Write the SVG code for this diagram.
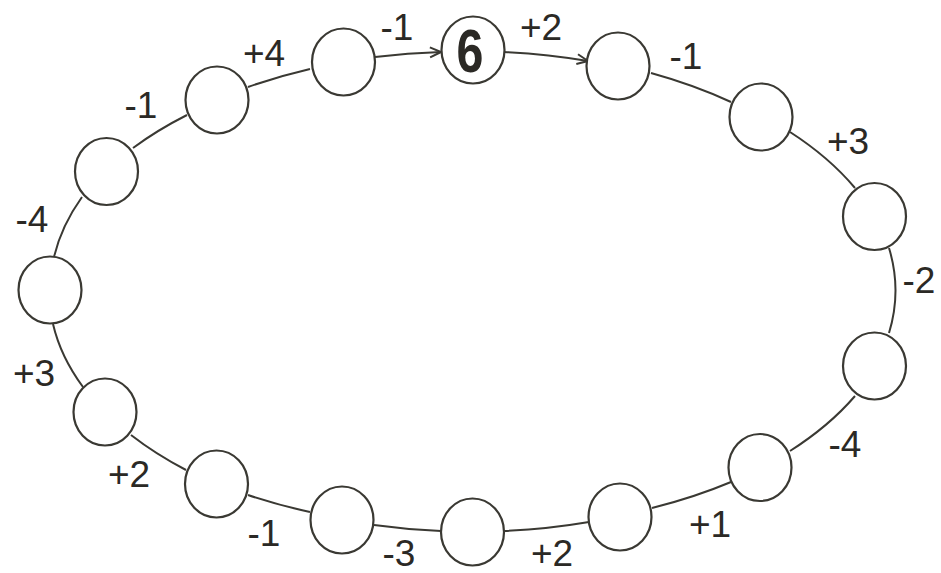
<svg xmlns="http://www.w3.org/2000/svg" width="941" height="573" viewBox="0 0 941 573">
<style>
.node{fill:#fff;stroke:#3a3933;stroke-width:2.2}
.edge{fill:none;stroke:#3a3933;stroke-width:2}
.lbl{font-family:"Liberation Sans",Arial,sans-serif;font-size:37px;fill:#2b2925;text-anchor:middle}
.big{font-family:"Liberation Sans",Arial,sans-serif;font-size:62px;font-weight:bold;fill:#2b2925;text-anchor:middle}
</style>
<defs>
<marker id="arr" markerUnits="userSpaceOnUse" markerWidth="14" markerHeight="14" refX="12" refY="6" orient="auto" viewBox="0 0 14 12">
<path d="M1,1 L12,6 L1,11" fill="none" stroke="#3a3933" stroke-width="2"/>
</marker>
</defs>
<rect width="941" height="573" fill="#fff"/>
<g id="connectors">
<path class="edge" d="M375,57 A412 241 0 0 1 441,52" marker-end="url(#arr)"/>
<path class="edge" d="M504,52 A412 241 0 0 1 588,61" marker-end="url(#arr)"/>
<path class="edge" d="M651,73 A412 241 0 0 1 731,102"/>
<path class="edge" d="M790,132 A412 241 0 0 1 855,188"/>
<path class="edge" d="M889,248 A412 241 0 0 1 889,333"/>
<path class="edge" d="M855,396 A412 241 0 0 1 790,451"/>
<path class="edge" d="M731,482 A412 241 0 0 1 652,508"/>
<path class="edge" d="M589,522 A412 241 0 0 1 504,531"/>
<path class="edge" d="M441,531 A412 241 0 0 1 374,525"/>
<path class="edge" d="M310,512 A412 241 0 0 1 248,495"/>
<path class="edge" d="M186,470 A412 241 0 0 1 131,435"/>
<path class="edge" d="M83,387 A412 241 0 0 1 53,324"/>
<path class="edge" d="M54,257 A412 241 0 0 1 82,197"/>
<path class="edge" d="M133,148 A412 241 0 0 1 187,115"/>
<path class="edge" d="M248,87 A412 241 0 0 1 310,69"/>
</g>
<g id="n0"><ellipse class="node" cx="473" cy="50" rx="31.5" ry="33.5"/><text class="big" transform="translate(470,72) scale(0.78,1)" x="0" y="0">6</text></g>
<g id="n1"><ellipse class="node" cx="618" cy="66" rx="31.5" ry="33.5"/></g>
<g id="n2"><ellipse class="node" cx="761" cy="117" rx="31.5" ry="33.5"/></g>
<g id="n3"><ellipse class="node" cx="874.5" cy="216.5" rx="31.5" ry="33.5"/></g>
<g id="n4"><ellipse class="node" cx="874.5" cy="366" rx="31.5" ry="33.5"/></g>
<g id="n5"><ellipse class="node" cx="760" cy="467.5" rx="31.5" ry="33.5"/></g>
<g id="n6"><ellipse class="node" cx="620" cy="517" rx="31.5" ry="33.5"/></g>
<g id="n7"><ellipse class="node" cx="472.5" cy="532" rx="31.5" ry="33.5"/></g>
<g id="n8"><ellipse class="node" cx="342" cy="520" rx="31.5" ry="33.5"/></g>
<g id="n9"><ellipse class="node" cx="216.5" cy="484" rx="31.5" ry="33.5"/></g>
<g id="n10"><ellipse class="node" cx="105" cy="412" rx="31.5" ry="33.5"/></g>
<g id="n11"><ellipse class="node" cx="50" cy="290" rx="31.5" ry="33.5"/></g>
<g id="n12"><ellipse class="node" cx="106.5" cy="171.5" rx="31.5" ry="33.5"/></g>
<g id="n13"><ellipse class="node" cx="217" cy="100" rx="31.5" ry="33.5"/></g>
<g id="n14"><ellipse class="node" cx="343.5" cy="62" rx="31.5" ry="33.5"/></g>
<g id="labels">
<text class="lbl" x="397" y="40">-1</text>
<text class="lbl" x="541" y="40">+2</text>
<text class="lbl" x="686" y="69">-1</text>
<text class="lbl" x="848" y="154">+3</text>
<text class="lbl" x="919" y="293">-2</text>
<text class="lbl" x="845" y="457">-4</text>
<text class="lbl" x="710" y="537">+1</text>
<text class="lbl" x="552" y="566">+2</text>
<text class="lbl" x="399" y="566">-3</text>
<text class="lbl" x="264" y="546">-1</text>
<text class="lbl" x="129" y="487">+2</text>
<text class="lbl" x="34" y="386">+3</text>
<text class="lbl" x="32" y="232">-4</text>
<text class="lbl" x="141" y="118">-1</text>
<text class="lbl" x="264" y="66">+4</text>
</g>
</svg>
